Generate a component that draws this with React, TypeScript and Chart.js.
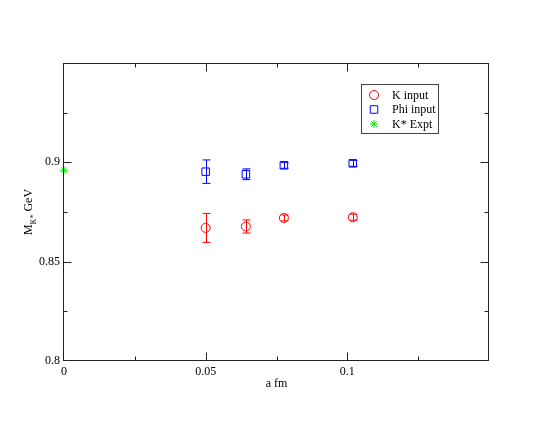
import React, { useEffect, useRef } from 'react';
import { Chart, registerables } from 'chart.js';
import { drawPoint } from 'chart.js/helpers';

Chart.register(...registerables);

// ---- data ----
const latticeSpacing = [0.05, 0.0642, 0.0776, 0.1019];
const kInputMass = [0.867, 0.8677, 0.872, 0.8724];
const kInputErr = [0.0073, 0.0033, 0.0015, 0.0015];
const phiInputMass = [0.8953, 0.894, 0.8985, 0.8995];
const phiInputErr = [0.0059, 0.0027, 0.0015, 0.0015];
const exptSpacing = [0];
const exptMass = [0.896];
const seriesLabels = ['K input', 'Phi input', 'K* Expt'];
const xLabelValues = [0, 0.05, 0.1];
const yLabelValues = [0.8, 0.85, 0.9];

const FONT = "'Liberation Serif', 'Times New Roman', serif";

const near = (a: number, b: number) => Math.abs(a - b) < 1e-7;
const isMajor = (v: number) => near(v / 0.05, Math.round(v / 0.05));

const errorBarPlugin = {
  id: 'errorBars',
  afterDatasetsDraw(chart: any) {
    const { ctx } = chart;
    const yScale = chart.scales.y;
    chart.data.datasets.forEach((ds: any, i: number) => {
      if (!ds.errors) return;
      const meta = chart.getDatasetMeta(i);
      ctx.save();
      ctx.strokeStyle = ds.borderColor;
      ctx.lineWidth = 1;
      meta.data.forEach((pt: any, j: number) => {
        const v = ds.data[j].y;
        const e = ds.errors[j];
        const x = Math.round(pt.x) + 0.5;
        const yt = yScale.getPixelForValue(v + e);
        const yb = yScale.getPixelForValue(v - e);
        ctx.beginPath();
        ctx.moveTo(x, yt);
        ctx.lineTo(x, yb);
        ctx.moveTo(x - 4, yt);
        ctx.lineTo(x + 4, yt);
        ctx.moveTo(x - 4, yb);
        ctx.lineTo(x + 4, yb);
        ctx.stroke();
      });
      ctx.restore();
    });
  },
};

const framePlugin = {
  id: 'frame',
  afterDraw(chart: any) {
    const { ctx, chartArea: a } = chart;
    const { x, y } = chart.scales;
    ctx.save();
    ctx.strokeStyle = '#222';
    ctx.lineWidth = 1;
    const L = Math.round(a.left) - 0.5;
    const R = Math.round(a.right) - 0.5;
    const T = Math.round(a.top) + 0.5;
    const B = Math.round(a.bottom) - 0.5;
    ctx.strokeRect(L, T, R - L, B - T);
    ctx.beginPath();
    x.ticks.forEach((t: any) => {
      if (near(t.value, x.min) || near(t.value, x.max)) return;
      const px = Math.round(x.getPixelForValue(t.value)) + 0.5;
      const len = isMajor(t.value) ? 8 : 4;
      ctx.moveTo(px, B);
      ctx.lineTo(px, B - len);
      ctx.moveTo(px, T);
      ctx.lineTo(px, T + len);
    });
    y.ticks.forEach((t: any) => {
      if (near(t.value, y.min) || near(t.value, y.max)) return;
      const py = Math.round(y.getPixelForValue(t.value)) + 0.5;
      const len = isMajor(t.value) ? 8 : 4;
      ctx.moveTo(L, py);
      ctx.lineTo(L + len, py);
      ctx.moveTo(R, py);
      ctx.lineTo(R - len, py);
    });
    ctx.stroke();

    // y-axis title with subscript
    ctx.fillStyle = '#000';
    ctx.textBaseline = 'alphabetic';
    ctx.textAlign = 'left';
    const main = '12px ' + FONT;
    const sub = '8px ' + FONT;
    ctx.font = main;
    const wM = ctx.measureText('M').width;
    const wG = ctx.measureText(' GeV').width;
    ctx.font = sub;
    const wK = ctx.measureText('K*').width;
    const total = wM + wK + wG;
    ctx.translate(32, 212);
    ctx.rotate(-Math.PI / 2);
    let cx = -total / 2;
    ctx.font = main;
    ctx.fillText('M', cx, 0);
    cx += wM;
    ctx.font = sub;
    ctx.fillText('K*', cx, 4);
    cx += wK;
    ctx.font = main;
    ctx.fillText(' GeV', cx, 0);
    ctx.restore();

    // legend box
    ctx.save();
    const bx = 361.5, by = 84.5, bw = 77, bh = 49;
    ctx.strokeStyle = '#444';
    ctx.lineWidth = 1;
    ctx.strokeRect(bx, by, bw, bh);
    ctx.font = '12px ' + FONT;
    ctx.textBaseline = 'middle';
    ctx.textAlign = 'left';
    chart.data.datasets.forEach((ds: any, i: number) => {
      const ly = 95 + i * 14.5;
      ctx.strokeStyle = ds.borderColor;
      ctx.fillStyle = 'rgba(0,0,0,0)';
      ctx.lineWidth = 1;
      drawPoint(
        ctx,
        {
          pointStyle: ds.pointStyle,
          radius: ds.pointRadius,
          borderWidth: 1,
          rotation: 0,
        } as any,
        374,
        ly
      );
      ctx.fillStyle = '#000';
      ctx.fillText(ds.label, 392, ly + 0.5);
    });
    ctx.restore();
  },
};

export default function App() {
  const ref = useRef<HTMLCanvasElement | null>(null);

  useEffect(() => {
    if (!ref.current) return;
    const mk = (xs: number[], ys: number[]) => xs.map((v, i) => ({ x: v, y: ys[i] }));
    const chart = new Chart(ref.current, {
      type: 'scatter',
      data: {
        datasets: [
          {
            label: seriesLabels[0],
            data: mk(latticeSpacing, kInputMass),
            errors: kInputErr,
            pointStyle: 'circle',
            pointRadius: 4.5,
            borderColor: '#ff0000',
            backgroundColor: 'rgba(0,0,0,0)',
            borderWidth: 1,
          } as any,
          {
            label: seriesLabels[1],
            data: mk(latticeSpacing, phiInputMass),
            errors: phiInputErr,
            pointStyle: 'rect',
            pointRadius: 5.3,
            borderColor: '#0000ff',
            backgroundColor: 'rgba(0,0,0,0)',
            borderWidth: 1,
          } as any,
          {
            label: seriesLabels[2],
            data: mk(exptSpacing, exptMass),
            pointStyle: 'star',
            pointRadius: 4,
            borderColor: '#00ee00',
            backgroundColor: 'rgba(0,0,0,0)',
            borderWidth: 1,
            clip: false,
          } as any,
        ],
      },
      options: {
        animation: false,
        responsive: false,
        events: [],
        layout: { padding: { left: 0, top: 63, right: 61, bottom: 0 } },
        plugins: {
          legend: { display: false },
          tooltip: { enabled: false },
        },
        scales: {
          x: {
            type: 'linear',
            min: 0,
            max: 0.15,
            grid: { display: false, drawTicks: false },
            border: { display: false },
            ticks: {
              stepSize: 0.025,
              autoSkip: false,
              maxRotation: 0,
              padding: 4,
              color: '#000',
              font: { family: FONT, size: 12 },
              callback: (v: any) => {
                const n = Number(v);
                const hit = xLabelValues.find((l) => near(l, n));
                return hit === undefined ? '' : String(hit);
              },
            },
            title: {
              display: true,
              text: 'a fm',
              color: '#000',
              font: { family: FONT, size: 12 },
              padding: { top: 0, bottom: 34 },
            },
            afterFit: (s: any) => {
              s.height = 64;
            },
          },
          y: {
            type: 'linear',
            min: 0.8,
            max: 0.95,
            grid: { display: false, drawTicks: false },
            border: { display: false },
            ticks: {
              stepSize: 0.025,
              autoSkip: false,
              padding: 4,
              color: '#000',
              font: { family: FONT, size: 12 },
              callback: (v: any) => {
                const n = Number(v);
                const hit = yLabelValues.find((l) => near(l, n));
                return hit === undefined ? '' : String(hit);
              },
            },
            afterFit: (s: any) => {
              s.width = 64;
            },
          },
        },
      },
      plugins: [errorBarPlugin, framePlugin],
    } as any);
    return () => chart.destroy();
  }, []);

  return (
    <canvas
      ref={ref}
      width={550}
      height={425}
      style={{ position: 'fixed', left: 0, top: 0, width: 550, height: 425, display: 'block' }}
    />
  );
}
